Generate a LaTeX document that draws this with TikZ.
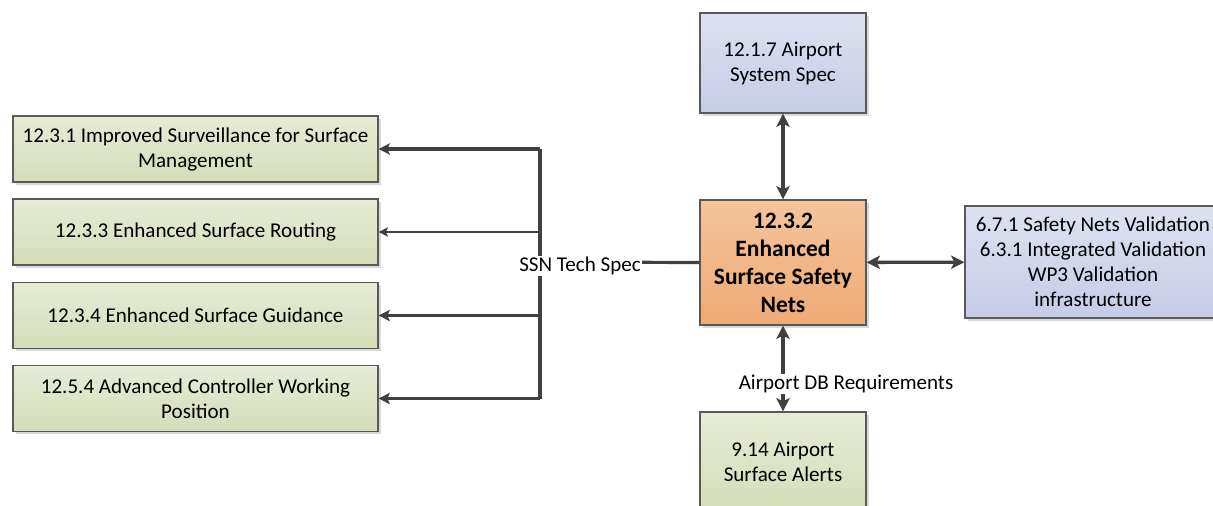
\documentclass[tikz,border=0pt]{standalone}
\usepackage{fontspec}
\setmainfont{Carlito}
\usetikzlibrary{arrows.meta,shadows}

\definecolor{greentop}{HTML}{E6ECD6}
\definecolor{greenbot}{HTML}{D4DDB8}
\definecolor{bluetop}{HTML}{DDE1F1}
\definecolor{bluebot}{HTML}{C6CCE6}
\definecolor{orangetop}{HTML}{F5C49C}
\definecolor{orangebot}{HTML}{EEAA74}
\definecolor{boxline}{HTML}{595959}
\definecolor{wire}{HTML}{404040}

\begin{document}
\begin{tikzpicture}[x=0.75pt,y=-0.75pt,
  box/.style={rectangle, draw=boxline, line width=0.9pt, align=center, inner sep=0pt,
    text=black, font=\fontsize{15.8}{18.75}\selectfont,
    drop shadow={shadow xshift=2pt, shadow yshift=-2pt, fill=black!25, opacity=0.6}},
  greenbox/.style={box, top color=greentop, bottom color=greenbot, minimum width=273.75pt, minimum height=49.5pt},
  bluebox/.style={box, top color=bluetop, bottom color=bluebot, minimum width=124.5pt},
  orangebox/.style={box, top color=orangetop, bottom color=orangebot, minimum width=124.5pt, minimum height=93.75pt,
    font=\bfseries\fontsize{17.6}{21}\selectfont},
  lbl/.style={fill=white, inner sep=1pt, text=black, font=\fontsize{15.8}{18.75}\selectfont},
  wirebig/.style={draw=wire, line width=2.5pt},
  wiresmall/.style={draw=wire, line width=2.4pt},
  >={Stealth[length=10pt,width=10pt,inset=2.5pt]}]
  \useasboundingbox (0,0) rectangle (1213,506);

  \path (195.5,149) node[greenbox] (surv) {12.3.1 Improved Surveillance for Surface\\Management}
    (195.5,232) node[greenbox] (route) {12.3.3 Enhanced Surface Routing}
    (195.5,315.5) node[greenbox] (guide) {12.3.4 Enhanced Surface Guidance}
    (195.5,398.5) node[greenbox] (cwp) {12.5.4 Advanced Controller Working\\Position}
    (783,63) node[bluebox, minimum height=75pt] (sysspec) {12.1.7 Airport\\System Spec}
    (783,262.5) node[orangebox] (esn) {12.3.2\\Enhanced\\Surface Safety\\Nets}
    (1093,262) node[bluebox, minimum width=192pt, minimum height=84pt] (valid) {6.7.1 Safety Nets Validation\\6.3.1 Integrated Validation\\WP3 Validation\\infrastructure}
    (783,462) node[greenbox, minimum width=124.5pt, minimum height=75pt] (alerts) {9.14 Airport\\Surface Alerts};

  % tech spec bus
  \coordinate (bus) at (540,262);
  \draw[wiresmall] (bus |- surv.east) -- (bus |- cwp.east);
  \draw[wiresmall] (esn.west) -- (bus);
  \draw[wiresmall, ->, >={Stealth[length=8.5pt,width=8.5pt,inset=2pt]}] (bus |- surv.east) -- (surv.east);
  \draw[draw=wire, line width=1.2pt, ->, >={Stealth[length=7pt,width=7pt,inset=1.5pt]}] (bus |- route.east) -- (route.east);
  \draw[wiresmall, ->, >={Stealth[length=8.5pt,width=8.5pt,inset=2pt]}] (bus |- guide.east) -- (guide.east);
  \draw[wiresmall, ->, >={Stealth[length=8.5pt,width=8.5pt,inset=2pt]}] (bus |- cwp.east) -- (cwp.east);
  \node[lbl] (techspec) at (580,266) {SSN Tech Spec};

  \draw[wirebig, <->] (esn) -- (sysspec);
  \draw[wirebig, <->] (esn) -- (valid);
  \draw[wirebig, <->] (esn) -- (alerts);
  \node[lbl] (dbreq) at (846,384) {Airport DB Requirements};
\end{tikzpicture}
\end{document}
